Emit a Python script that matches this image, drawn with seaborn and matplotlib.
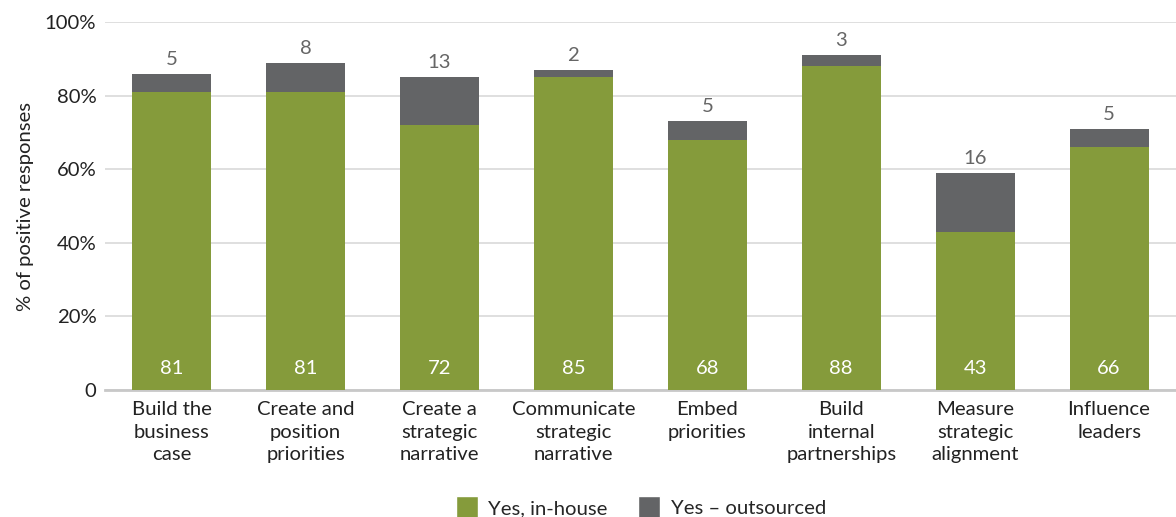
import matplotlib
matplotlib.use("Agg")
import matplotlib.pyplot as plt
import seaborn as sns
import pandas as pd
from matplotlib.patches import Patch

categories = ["Build the\nbusiness\ncase", "Create and\nposition\npriorities", "Create a\nstrategic\nnarrative",
              "Communicate\nstrategic\nnarrative", "Embed\npriorities", "Build\ninternal\npartnerships",
              "Measure\nstrategic\nalignment", "Influence\nleaders"]
in_house = [81, 81, 72, 85, 68, 88, 43, 66]
outsourced = [5, 8, 13, 2, 5, 3, 16, 5]
y_ticks = [0, 20, 40, 60, 80, 100]
y_tick_labels = ["0", "20%", "40%", "60%", "80%", "100%"]

GREEN = "#859B3B"
GREY = "#636466"
FS = 14.6

sns.set_theme(style="white")
plt.rcParams['font.family'] = ['Lato', 'DejaVu Sans']

df = pd.DataFrame({"cat": categories, "in_house": in_house, "outsourced": outsourced})
df["total"] = df["in_house"] + df["outsourced"]

fig = plt.figure(figsize=(11.76, 5.17), dpi=100)
ax = fig.add_axes([0.089, 0.2456, 0.911, 0.7118])

sns.barplot(data=df, x="cat", y="total", color=GREY, width=0.59, saturation=1, linewidth=0, ax=ax, zorder=2)
sns.barplot(data=df, x="cat", y="in_house", color=GREEN, width=0.59, saturation=1, linewidth=0, ax=ax, zorder=3)

for i, (a, b) in enumerate(zip(in_house, outsourced)):
    ax.text(i, 5.8, str(a), ha="center", va="center", color="white", fontsize=FS, zorder=5)
    ax.text(i, a + b + 1.6, str(b), ha="center", va="bottom", color="#666666", fontsize=FS, zorder=5)

ax.set_ylim(0, 100)
ax.set_xlim(-0.5, len(categories) - 0.5)
ax.set_yticks(y_ticks)
ax.set_yticklabels(y_tick_labels, fontsize=FS, color="#222222")
ax.tick_params(axis="x", labelsize=FS, colors="#222222", length=0, pad=8)
for lbl in ax.get_xticklabels():
    lbl.set_linespacing(1.4)
ax.tick_params(axis="y", length=0, pad=6)
ax.set_xlabel("")
ax.set_ylabel("% of positive responses", fontsize=FS, color="#222222", labelpad=8)
ax.yaxis.grid(True, color="#d9d9d9", linewidth=1.2, zorder=0)
ax.set_axisbelow(True)
for s in ["top", "right", "left"]:
    ax.spines[s].set_visible(False)
ax.spines["bottom"].set_color("#c8c8c8")
ax.spines["bottom"].set_linewidth(2)

handles = [Patch(facecolor=GREEN, label="Yes, in-house"), Patch(facecolor=GREY, label="Yes \u2013 outsourced")]
fig.legend(handles=handles, loc="lower center", bbox_to_anchor=(0.545, -0.038), ncol=2, frameon=False,
           fontsize=FS, handlelength=1.1, handleheight=1.3, columnspacing=1.5, handletextpad=0.5)

fig.savefig("out.png", dpi=100)
